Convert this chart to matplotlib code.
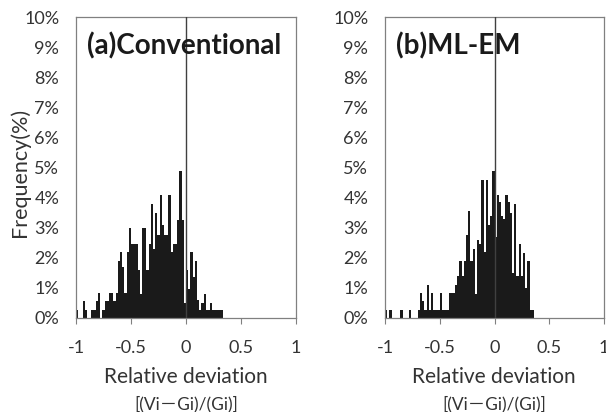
import matplotlib
matplotlib.use("Agg")
import matplotlib.pyplot as plt
import numpy as np

plt.rcParams['font.family'] = ['Lato', 'Noto Sans CJK JP', 'DejaVu Sans']

bin_width = 0.02
# (a) Conventional: frequency (%) per bin, bins start at -1.00
conv_freq = [0.28, 0, 0, 0.55, 0.28, 0, 0, 0.28, 0.28, 0.55,
             0.83, 0, 0.28, 0.55, 0.55, 0.83, 0.83, 0.55, 0.83, 1.9,
             2.2, 1.7, 0.83, 2.2, 3.0, 2.45, 2.45, 2.45, 1.6, 0.8,
             3.0, 3.0, 1.6, 2.45, 3.8, 2.3, 3.5, 2.75, 4.1, 3.1,
             2.75, 2.75, 4.1, 2.2, 2.45, 2.45, 3.25, 4.9, 3.25, 0.5,
             1.6, 0.95, 2.2, 1.35, 1.9, 0.6, 0.28, 0.5, 0.8, 0.28,
             0.28, 0.5, 0.28, 0.28, 0.28, 0.28, 0.28]
# (b) ML-EM
mlem_freq = [0.28, 0, 0.28, 0, 0, 0, 0, 0.28, 0, 0,
             0, 0.28, 0, 0, 0, 0.28, 0.83, 0.55, 0.28, 1.1,
             0.28, 0.83, 0.28, 0.28, 0.28, 0.83, 0.28, 0.28, 0.28, 0.83,
             0.83, 0.83, 1.1, 1.4, 1.9, 1.4, 1.9, 2.75, 3.55, 1.9,
             2.3, 0.8, 2.6, 2.45, 4.6, 2.2, 4.6, 3.1, 3.4, 4.9,
             2.7, 4.1, 3.85, 3.4, 3.3, 4.1, 3.85, 3.5, 1.5, 3.8,
             1.4, 2.45, 1.4, 2.15, 1.0, 1.9, 0.28, 0.28]

x_ticks = [-1, -0.5, 0, 0.5, 1]
x_tick_labels = ['-1', '-0.5', '0', '0.5', '1']
y_ticks = list(range(0, 11))
y_tick_labels = [f'{v}%' for v in y_ticks]
titles = ['(a)Conventional', '(b)ML-EM']

W, H = 606, 412
fig = plt.figure(figsize=(W / 100, H / 100), dpi=100)

def px_axes(x0, x1, y0, y1):
    return fig.add_axes([x0 / W, 1 - y1 / H, (x1 - x0) / W, (y1 - y0) / H])

ax_list = [px_axes(76, 296, 17, 318), px_axes(385, 604, 17, 318)]
data = [conv_freq, mlem_freq]
centers = [186, 494]

for ax, freq, title, cx in zip(ax_list, data, titles, centers):
    edges = -1 + bin_width * np.arange(len(freq))
    ax.bar(edges, freq, width=bin_width, align='edge', color='#1a1a1a',
           linewidth=0)
    ax.axvline(0, color='#404040', lw=1.0, zorder=3)
    ax.set_xlim(-1, 1)
    ax.set_ylim(0, 10)
    ax.set_xticks(x_ticks)
    ax.set_xticklabels(x_tick_labels, fontsize=13, color='#333333')
    ax.set_yticks(y_ticks)
    ax.set_yticklabels(y_tick_labels, fontsize=13, color='#333333')
    ax.tick_params(axis='y', length=0, pad=12)
    ax.tick_params(axis='x', length=4, width=0.8, color='#808080',
                   direction='out', pad=12)
    for s in ax.spines.values():
        s.set_color('#808080')
        s.set_linewidth(0.9)
    ax.text(0.05, 0.875, title, transform=ax.transAxes, fontsize=20,
            fontweight='bold', color='#1a1a1a', va='baseline', ha='left',
            clip_on=True)
    fig.text(cx / W, 1 - 377 / H, 'Relative deviation', fontsize=15,
             color='#333333', ha='center', va='center')
    fig.text(cx / W, 1 - 404 / H, '[(Vi－Gi)/(Gi)]', fontsize=12.5,
             color='#333333', ha='center', va='center')

fig.text(20 / W, 1 - 172 / H, 'Frequency(%)', fontsize=15.5,
         color='#333333', ha='center', va='center', rotation=90)

fig.savefig('out.png', dpi=100)
